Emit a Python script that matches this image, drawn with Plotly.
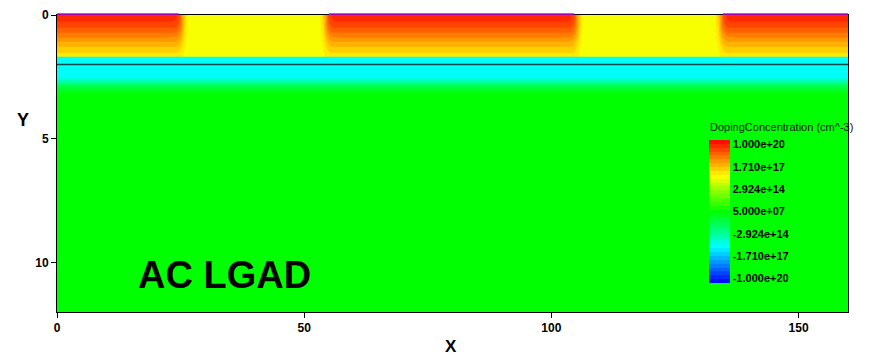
import colorsys
import numpy as np
import plotly.graph_objects as go

# ---------------- data ----------------
# n++ electrodes (lateral extent, x units)
electrode_x0 = [0.0, 54.3, 134.3]
electrode_x1 = [25.3, 105.3, 160.0]
# metal contacts drawn on the top surface
contact_x0 = [0.0, 55.0, 134.7]
contact_x1 = [24.6, 104.6, 160.0]
# colour-bar levels and their labels
level_ticks = [3, 2, 1, 0, -1, -2, -3]
tick_labels = ["1.000e+20", "1.710e+17", "2.924e+14", "5.000e+07",
               "-2.924e+14", "-1.710e+17", "-1.000e+20"]
# layer parameters (depth in y units, value in colour-bar level units)
electrode_peak_level = 2.93
nlayer_level = 1.55
nlayer_depth = 1.68
electrode_sigma = 1.2
lateral_sigma = 0.8
gain_level = -1.55
gain_end = 2.45
gain_tail = 0.4
bulk_level = 0.0
interface_y = 2.0
x_max, y_max = 160.0, 12.0

# ---------------- field construction ----------------
xs = np.round(np.arange(0, x_max + 0.001, 0.2), 2)
ys = np.concatenate([np.arange(0, 3.5, 0.02), np.arange(3.5, y_max + 0.51, 0.5)])
ys = np.round(ys, 3)

lat = np.zeros_like(xs)
for a, b in zip(electrode_x0, electrode_x1):
    left = np.ones_like(xs) if a <= 0 else 0.5 * (1 + np.tanh((xs - a) / lateral_sigma))
    right = np.ones_like(xs) if b >= x_max else 0.5 * (1 - np.tanh((xs - b) / lateral_sigma))
    lat = np.maximum(lat, left * right)

X, Y = np.meshgrid(xs, ys)
L = np.tile(lat, (len(ys), 1))
top = nlayer_level + (electrode_peak_level - nlayer_level) * L * np.exp(-(Y / electrode_sigma) ** 2)
gain = np.where(Y < gain_end, gain_level,
                bulk_level + (gain_level - bulk_level) * np.exp(-((Y - gain_end) / gain_tail) ** 2))
Z = np.where(Y < nlayer_depth, top, gain)
Z = np.round(Z, 3)

# ---------------- stepped blue-to-red rainbow ----------------
zmin, zmax = -3.2, 3.2
N = 37
cscale = []
for i in range(N):
    fc = (i + 0.5) / N
    r, g, b = colorsys.hsv_to_rgb((240 * (1 - fc)) / 360.0, 1, 1)
    col = f"rgb({int(r*255)},{int(g*255)},{int(b*255)})"
    cscale.append([i / N, col])
    cscale.append([(i + 1) / N, col])

# page geometry (px); the page body adds an 8 px offset
OFF = 8
W, H = 881 - OFF, 356 - OFF
plot_l, plot_r, plot_t, plot_b = 57, 848, 15, 312
ml, mr, mt, mb = plot_l - OFF, 881 - plot_r, plot_t - OFF, 356 - plot_b
pw, ph = plot_r - plot_l, plot_b - plot_t


def px_x(p):
    return (p - plot_l) / pw


def px_y(p):
    return (plot_b - p) / ph


font_fam = "Liberation Sans, Arial, sans-serif"

fig = go.Figure()
fig.add_trace(go.Heatmap(
    x=xs, y=ys, z=Z, zmin=zmin, zmax=zmax, colorscale=cscale,
    hoverinfo="skip",
    colorbar=dict(
        x=px_x(709), xanchor="left", xpad=0,
        y=px_y(211.5), yanchor="middle", ypad=0,
        len=143 / ph, lenmode="fraction", thickness=21, outlinewidth=0,
        tickvals=level_ticks, ticktext=tick_labels, ticks="",
        tickfont=dict(family=font_fam, size=11, color="black", weight="bold"),
    ),
))

axis_common = dict(showgrid=False, zeroline=False, showline=True, mirror=True,
                   linecolor="black", linewidth=1, ticks="outside", ticklen=5,
                   tickcolor="black",
                   tickfont=dict(family=font_fam, size=12, color="black", weight="bold"))

fig.update_layout(
    width=W, height=H, margin=dict(l=ml, r=mr, t=mt, b=mb, autoexpand=False),
    paper_bgcolor="white", plot_bgcolor="white",
    xaxis=dict(range=[0, x_max], tickvals=[0, 50, 100, 150], **axis_common),
    yaxis=dict(range=[y_max, 0], tickvals=[0, 5, 10], **axis_common),
    showlegend=False,
)

# interface line
fig.add_shape(type="line", xref="x", yref="y", x0=0, x1=x_max, y0=interface_y, y1=interface_y,
              line=dict(color="#0a4848", width=1.5))
# contacts
for a, b in zip(contact_x0, contact_x1):
    fig.add_shape(type="line", xref="x", yref="paper", x0=a, x1=b, y0=px_y(14), y1=px_y(14),
                  line=dict(color="#e000e0", width=1.3))

fig.add_annotation(text="AC LGAD", xref="x", yref="y", x=33.8, y=10.52, showarrow=False,
                   xanchor="center", yanchor="middle",
                   font=dict(family=font_fam, size=38, color="black", weight="bold"))
fig.add_annotation(text="Y", xref="paper", yref="paper", x=px_x(23), y=px_y(119.5),
                   xanchor="center", yanchor="middle",
                   showarrow=False, font=dict(family=font_fam, size=18, color="black", weight="bold"))
fig.add_annotation(text="X", xref="paper", yref="paper", x=px_x(451), y=px_y(346.5),
                   xanchor="center", yanchor="middle", borderpad=0,
                   showarrow=False, font=dict(family=font_fam, size=17, color="black", weight="bold"))
fig.add_annotation(text="DopingConcentration (cm^-3)", xref="paper", yref="paper",
                   x=px_x(708), xanchor="left", y=px_y(126.5), yanchor="middle",
                   showarrow=False, font=dict(family=font_fam, size=11, color="#111"))

fig.write_html("out.html")
